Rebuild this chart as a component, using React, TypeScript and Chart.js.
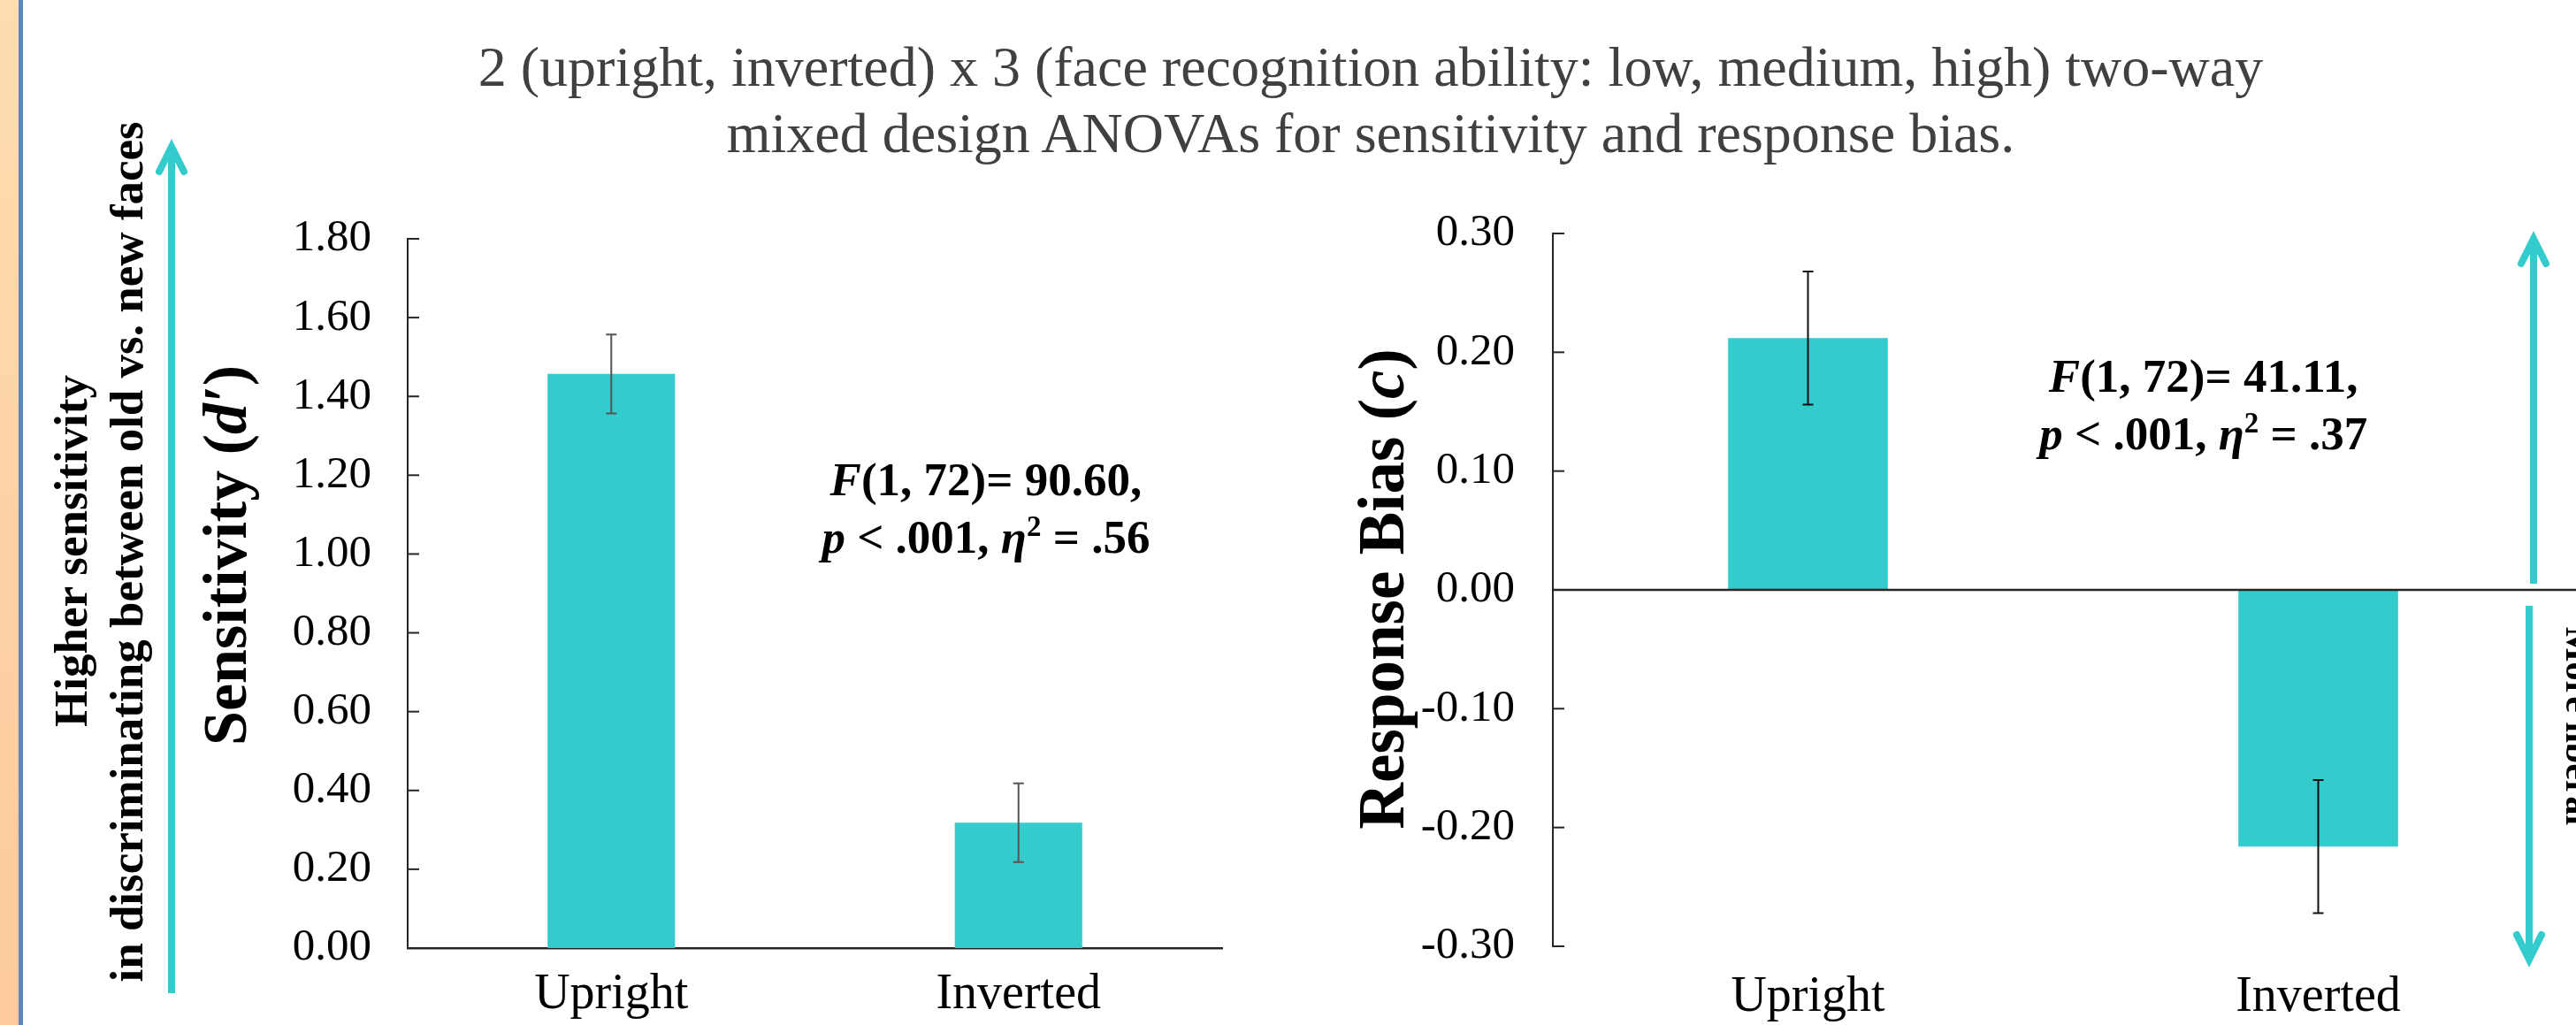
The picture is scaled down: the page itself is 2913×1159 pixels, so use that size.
import React, { useEffect, useRef } from "react";
import { Chart, registerables } from "chart.js";

Chart.register(...registerables);

// ---------- data ----------
const categories = ["Upright", "Inverted"];
const sensitivityMeans = [1.457, 0.318];
const sensitivityErrors = [0.1, 0.1];
const biasMeans = [0.212, -0.216];
const biasErrors = [0.056, 0.056];
const sensitivityAxis = [0, 1.8, 0.2]; // min, max, step
const biasAxis = [-0.3, 0.3, 0.1]; // min, max, step
const titleLines = [
  "2 (upright, inverted) x 3 (face recognition ability: low, medium, high) two-way",
  "mixed design ANOVAs for sensitivity and response bias.",
];
const leftNoteLines = ["Higher sensitivity", "in discriminating between old vs. new faces"];
const rightNoteLines = ["More conservative", "More liberal"];

// ---------- styles ----------
const SERIF = "'Liberation Serif', 'Times New Roman', serif";
const BAR = "#33CBCB";
const AXIS = "#262626";
const ARROW = "#33CBCB";

type Run = { text: string; italic?: boolean; sup?: boolean };

function drawRuns(ctx: CanvasRenderingContext2D, runs: Run[], x: number, y: number, size: number) {
  const fontFor = (r: Run) =>
    `${r.italic ? "italic " : ""}bold ${r.sup ? Math.round(size * 0.62) : size}px ${SERIF}`;
  let total = 0;
  const widths = runs.map((r) => {
    ctx.font = fontFor(r);
    const w = ctx.measureText(r.text).width;
    total += w;
    return w;
  });
  let cx = x - total / 2;
  ctx.textAlign = "left";
  ctx.textBaseline = "alphabetic";
  runs.forEach((r, i) => {
    ctx.font = fontFor(r);
    ctx.fillText(r.text, cx, r.sup ? y - size * 0.36 : y);
    cx += widths[i];
  });
}

type Extras = {
  errors: number[];
  errColor: string;
  yTitle: Run[];
  yTitleX: number;
  yTitleY: number;
  yTitleSize: number;
  annot: Run[][];
  annotX: number; // in category-index units
  annotVals: number[];
  annotSize: number;
  zeroLine: boolean;
};

function makePlugin(ex: Extras) {
  return {
    id: "customDecor",
    afterDatasetsDraw(chart: any) {
      const ctx: CanvasRenderingContext2D = chart.ctx;
      const ys = chart.scales.y;
      const xs = chart.scales.x;
      const area = chart.chartArea;
      const meta = chart.getDatasetMeta(0);
      const vals: number[] = chart.data.datasets[0].data as number[];
      ctx.save();
      if (ex.zeroLine) {
        const y0 = ys.getPixelForValue(0);
        ctx.strokeStyle = AXIS;
        ctx.lineWidth = 2.5;
        ctx.beginPath();
        ctx.moveTo(area.left, y0);
        ctx.lineTo(area.right + 3, y0);
        ctx.stroke();
      }
      ctx.strokeStyle = ex.errColor;
      ctx.lineWidth = 2;
      meta.data.forEach((bar: any, i: number) => {
        const x = bar.x;
        const yt = ys.getPixelForValue(vals[i] + ex.errors[i]);
        const yb = ys.getPixelForValue(vals[i] - ex.errors[i]);
        ctx.beginPath();
        ctx.moveTo(x, yt);
        ctx.lineTo(x, yb);
        ctx.moveTo(x - 6, yt);
        ctx.lineTo(x + 6, yt);
        ctx.moveTo(x - 6, yb);
        ctx.lineTo(x + 6, yb);
        ctx.stroke();
      });
      ctx.strokeStyle = AXIS;
      ctx.lineWidth = 2;
      ys.ticks.forEach((t: any) => {
        const y = ys.getPixelForValue(t.value);
        ctx.beginPath();
        ctx.moveTo(area.left, y);
        ctx.lineTo(area.left + 13, y);
        ctx.stroke();
      });
      ctx.fillStyle = "#000";
      const ax = xs.getPixelForValue(ex.annotX);
      ex.annot.forEach((line, i) => {
        drawRuns(ctx, line, ax, ys.getPixelForValue(ex.annotVals[i]), ex.annotSize);
      });
      ctx.translate(ex.yTitleX, ex.yTitleY);
      ctx.rotate(-Math.PI / 2);
      drawRuns(ctx, ex.yTitle, 0, 0, ex.yTitleSize);
      ctx.restore();
    },
  };
}

type PanelProps = {
  left: number;
  top: number;
  width: number;
  height: number;
  means: number[];
  axis: number[];
  padTop: number;
  padRight: number;
  yWidth: number;
  xHeight: number;
  yPad: number;
  xPad: number;
  xBorder: boolean;
  extras: Extras;
};

function Panel(p: PanelProps) {
  const ref = useRef<HTMLCanvasElement | null>(null);
  useEffect(() => {
    if (!ref.current) return;
    const chart = new Chart(ref.current, {
      type: "bar",
      data: {
        labels: categories,
        datasets: [
          {
            data: p.means,
            backgroundColor: BAR,
            borderWidth: 0,
            barPercentage: 0.313,
            categoryPercentage: 1,
          },
        ],
      },
      options: {
        animation: false,
        responsive: false,
        maintainAspectRatio: false,
        events: [],
        layout: { padding: { top: p.padTop, right: p.padRight, left: 0, bottom: 0 } },
        plugins: {
          legend: { display: false },
          tooltip: { enabled: false },
          title: { display: false },
        },
        scales: {
          x: {
            grid: { display: false, drawTicks: false },
            border: { display: p.xBorder, color: AXIS, width: 2.5 },
            ticks: { font: { family: SERIF, size: 56 }, color: "#000", padding: p.xPad },
            afterFit: (s: any) => {
              s.height = p.xHeight;
              s.paddingLeft = 0;
              s.paddingRight = 0;
            },
          },
          y: {
            min: p.axis[0],
            max: p.axis[1],
            grid: { display: false, drawTicks: false },
            border: { display: true, color: AXIS, width: 2 },
            ticks: {
              stepSize: p.axis[2],
              font: { family: SERIF, size: 51 },
              color: "#000",
              padding: p.yPad,
              callback: (v: any) => Number(v).toFixed(2),
            },
            afterFit: (s: any) => {
              s.width = p.yWidth;
              s.paddingTop = 0;
              s.paddingBottom = 0;
            },
          },
        },
      } as any,
      plugins: [makePlugin(p.extras)],
    });
    return () => chart.destroy();
  }, []);
  return (
    <canvas
      ref={ref}
      width={p.width}
      height={p.height}
      style={{ position: "absolute", left: p.left, top: p.top, width: p.width, height: p.height, display: "block" }}
    />
  );
}

function RotText(props: { text: string; cx: number; cy: number; size: number; angle: number }) {
  return (
    <div
      style={{
        position: "absolute",
        left: props.cx,
        top: props.cy,
        transform: `translate(-50%, -50%) rotate(${props.angle}deg)`,
        fontFamily: SERIF,
        fontWeight: "bold",
        fontSize: props.size,
        lineHeight: 1,
        whiteSpace: "nowrap",
        color: "#000",
      }}
    >
      {props.text}
    </div>
  );
}

export default function App() {
  const sensExtras: Extras = {
    errors: sensitivityErrors,
    errColor: "#555",
    yTitle: [{ text: "Sensitivity (" }, { text: "d′", italic: true }, { text: ")" }],
    yTitleX: 78,
    yTitleY: 398,
    yTitleSize: 70,
    annot: [
      [{ text: "F", italic: true }, { text: "(1, 72)= 90.60," }],
      [
        { text: "p", italic: true },
        { text: " < .001, " },
        { text: "η", italic: true },
        { text: "2", sup: true },
        { text: " = .56" },
      ],
    ],
    annotX: 0.92,
    annotVals: [1.149, 1.003],
    annotSize: 53,
    zeroLine: false,
  };
  const biasExtras: Extras = {
    errors: biasErrors,
    errColor: "#111",
    yTitle: [{ text: "Response Bias (" }, { text: "c", italic: true }, { text: ")" }],
    yTitleX: 107,
    yTitleY: 436,
    yTitleSize: 73,
    annot: [
      [{ text: "F", italic: true }, { text: "(1, 72)= 41.11," }],
      [
        { text: "p", italic: true },
        { text: " < .001, " },
        { text: "η", italic: true },
        { text: "2", sup: true },
        { text: " = .37" },
      ],
    ],
    annotX: 0.775,
    annotVals: [0.1667, 0.118],
    annotSize: 53,
    zeroLine: true,
  };

  return (
    <div
      style={{
        position: "fixed",
        left: 0,
        top: 0,
        width: 2913,
        height: 1159,
        overflow: "hidden",
        background: "#fff",
      }}
    >
      <div
        style={{
          position: "absolute",
          left: 0,
          top: 0,
          width: 21,
          height: 1159,
          background: "linear-gradient(#FDDCB0, #FCCA9C)",
        }}
      />
      <div style={{ position: "absolute", left: 21, top: 0, width: 5, height: 1159, background: "#5A87C4" }} />

      {titleLines.map((t, i) => (
        <div
          key={i}
          style={{
            position: "absolute",
            left: 350,
            width: 2400,
            top: 38 + i * 75,
            textAlign: "center",
            fontFamily: SERIF,
            fontSize: 64,
            lineHeight: "75px",
            color: "#404040",
            whiteSpace: "nowrap",
          }}
        >
          {t}
        </div>
      ))}

      <Panel
        left={200}
        top={230}
        width={1200}
        height={929}
        means={sensitivityMeans}
        axis={sensitivityAxis}
        padTop={40}
        padRight={18}
        yWidth={261}
        xHeight={87}
        yPad={41}
        xPad={20}
        xBorder={true}
        extras={sensExtras}
      />
      <Panel
        left={1480}
        top={230}
        width={1433}
        height={929}
        means={biasMeans}
        axis={biasAxis}
        padTop={34}
        padRight={3}
        yWidth={276}
        xHeight={89}
        yPad={43}
        xPad={25}
        xBorder={false}
        extras={biasExtras}
      />

      <RotText text={leftNoteLines[0]} cx={80} cy={623} size={53} angle={-90} />
      <RotText text={leftNoteLines[1]} cx={143} cy={624} size={53} angle={-90} />
      <RotText text={rightNoteLines[0]} cx={2927} cy={451} size={42} angle={90} />
      <RotText text={rightNoteLines[1]} cx={2916} cy={821} size={42} angle={90} />

      <svg
        width={2913}
        height={1159}
        style={{ position: "absolute", left: 0, top: 0, pointerEvents: "none" }}
      >
        <g stroke={ARROW} strokeWidth={8} fill="none" strokeLinejoin="miter">
          <line x1={194} y1={1123} x2={194} y2={168} />
          <polyline points="180,194 194,166 208,194" strokeLinecap="round" />
          <line x1={2865} y1={660} x2={2865} y2={272} />
          <polyline points="2851,298 2865,270 2879,298" strokeLinecap="round" />
          <line x1={2860} y1={685} x2={2860} y2={1082} />
          <polyline points="2846,1057 2860,1085 2874,1057" strokeLinecap="round" />
        </g>
      </svg>
    </div>
  );
}
